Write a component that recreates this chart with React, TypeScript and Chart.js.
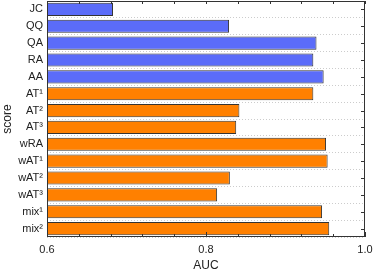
import React, { useEffect, useRef } from "react";
import { Chart, registerables } from "chart.js";

Chart.register(...registerables);

const categories = ["JC", "QQ", "QA", "RA", "AA", "AT¹", "AT²", "AT³", "wRA", "wAT¹", "wAT²", "wAT³", "mix¹", "mix²"];
const aucValues = [0.683, 0.829, 0.939, 0.935, 0.948, 0.935, 0.842, 0.838, 0.951, 0.953, 0.830, 0.814, 0.946, 0.955];
const groups = ["base", "base", "base", "base", "base", "new", "new", "new", "new", "new", "new", "new", "new", "new"];
const xMin = 0.6;
const xMax = 1.0;
const minorStep = 0.04;
const majorTicks = [0.6, 0.8, 1.0];

const BLUE = "#5b6cf9";
const ORANGE = "#ff8000";
const FONT = "'Liberation Sans', Arial, sans-serif";

const framePlugin = {
  id: "frameTicks",
  afterDatasetsDraw(chart: any) {
    const { ctx, chartArea } = chart;
    const { left, right, top, bottom } = chartArea;
    const xs = chart.scales.x;
    const ys = chart.scales.y;
    ctx.save();
    ctx.strokeStyle = "#333333";
    ctx.lineWidth = 1;
    ctx.beginPath();
    const n = Math.round((xMax - xMin) / minorStep);
    for (let i = 0; i <= n; i++) {
      const v = xMin + i * minorStep;
      const px = Math.round(xs.getPixelForValue(v)) + 0.5;
      const isMajor = majorTicks.some((m) => Math.abs(m - v) < 1e-6);
      const len = isMajor ? 5 : 3;
      ctx.moveTo(px, bottom);
      ctx.lineTo(px, bottom - len);
      ctx.moveTo(px, top);
      ctx.lineTo(px, top + 3);
    }
    for (let i = 0; i < categories.length; i++) {
      const py = Math.round(ys.getPixelForValue(i)) + 0.5;
      ctx.moveTo(right, py);
      ctx.lineTo(right - 4, py);
    }
    ctx.stroke();
    ctx.strokeRect(Math.round(left) + 0.5, Math.round(top) + 0.5, Math.round(right - left) - 1, Math.round(bottom - top) - 1);
    ctx.restore();
  },
};

export default function App() {
  const ref = useRef<HTMLCanvasElement | null>(null);
  useEffect(() => {
    document.body.style.margin = "0";
    if (!ref.current) return;
    const chart = new Chart(ref.current, {
      type: "bar",
      data: {
        labels: categories,
        datasets: [
          {
            data: aucValues,
            backgroundColor: groups.map((g) => (g === "base" ? BLUE : ORANGE)),
            borderColor: "#333333",
            borderWidth: 1,
            barPercentage: 0.78,
            categoryPercentage: 1,
            borderSkipped: false,
          },
        ],
      },
      options: {
        indexAxis: "y",
        animation: false,
        responsive: false,
        maintainAspectRatio: false,
        layout: { padding: { top: 1, right: 9, left: 0, bottom: 0 } },
        plugins: { legend: { display: false }, tooltip: { enabled: false } },
        scales: {
          x: {
            type: "linear",
            min: xMin,
            max: xMax,
            afterFit: (s: any) => {
              s.height = 37;
              s.paddingLeft = 0;
              s.paddingRight = 0;
            },
            afterBuildTicks: (s: any) => {
              s.ticks = majorTicks.map((v) => ({ value: v }));
            },
            grid: { display: false, drawTicks: false },
            border: { display: false },
            ticks: {
              padding: 6,
              color: "#222",
              font: { family: FONT, size: 11 },
              callback: (v: any) => Number(v).toFixed(1),
              maxRotation: 0,
            },
            title: {
              display: true,
              text: "AUC",
              color: "#222",
              font: { family: FONT, size: 12 },
              padding: { top: 0, bottom: 1 },
            },
          },
          y: {
            type: "category",
            afterFit: (s: any) => {
              s.width = 47;
              s.paddingTop = 0;
              s.paddingBottom = 0;
            },
            grid: { display: true, drawTicks: false, color: "#cccccc", lineWidth: 1 },
            border: { display: false, dash: [1, 2] },
            ticks: {
              padding: 4,
              color: "#222",
              font: { family: FONT, size: 11 },
              autoSkip: false,
            },
            title: {
              display: true,
              text: "score",
              color: "#222",
              font: { family: FONT, size: 12 },
              padding: { top: 0, bottom: 0 },
            },
          },
        },
      },
      plugins: [framePlugin],
    });
    return () => chart.destroy();
  }, []);
  return (
    <div style={{ position: "fixed", left: 0, top: 0, width: 374, height: 274 }}>
      <canvas ref={ref} width={374} height={274} />
    </div>
  );
}
